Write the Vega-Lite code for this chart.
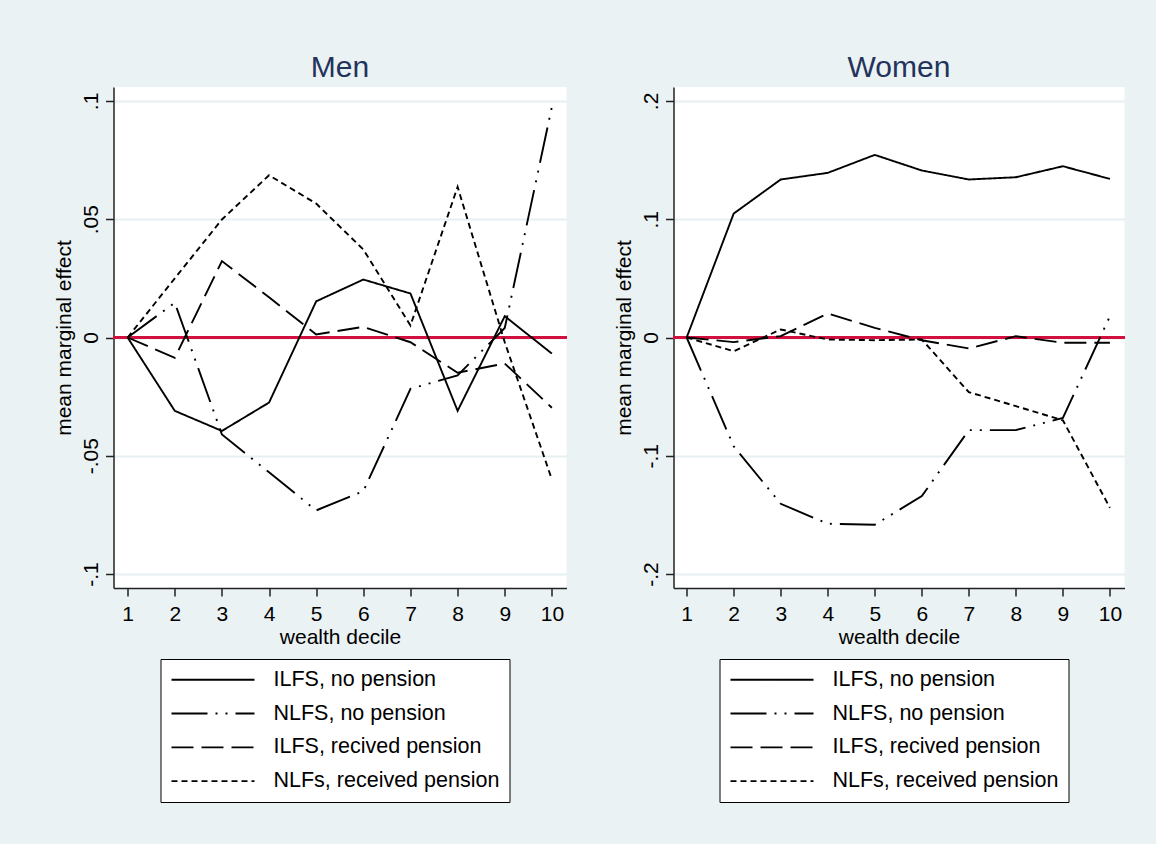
{
  "$schema": "https://vega.github.io/schema/vega-lite/v6.json",
  "background": "#EAF2F3",
  "padding": {"left": 53.5, "top": 53, "right": 32.5, "bottom": 46},
  "bounds": "flush",
  "spacing": 107,
  "datasets": {
    "d": [
      {"panel": "Men", "series": "ILFS, no pension", "decile": 1, "value": 0},
      {"panel": "Men", "series": "ILFS, no pension", "decile": 2, "value": -0.031},
      {"panel": "Men", "series": "ILFS, no pension", "decile": 3, "value": -0.0395},
      {"panel": "Men", "series": "ILFS, no pension", "decile": 4, "value": -0.0275},
      {"panel": "Men", "series": "ILFS, no pension", "decile": 5, "value": 0.0153},
      {"panel": "Men", "series": "ILFS, no pension", "decile": 6, "value": 0.0245},
      {"panel": "Men", "series": "ILFS, no pension", "decile": 7, "value": 0.0186},
      {"panel": "Men", "series": "ILFS, no pension", "decile": 8, "value": -0.031},
      {"panel": "Men", "series": "ILFS, no pension", "decile": 9, "value": 0.009},
      {"panel": "Men", "series": "ILFS, no pension", "decile": 10, "value": -0.0068},
      {"panel": "Men", "series": "NLFS, no pension", "decile": 1, "value": 0},
      {"panel": "Men", "series": "NLFS, no pension", "decile": 2, "value": 0.0147},
      {"panel": "Men", "series": "NLFS, no pension", "decile": 3, "value": -0.041},
      {"panel": "Men", "series": "NLFS, no pension", "decile": 4, "value": -0.057},
      {"panel": "Men", "series": "NLFS, no pension", "decile": 5, "value": -0.0731},
      {"panel": "Men", "series": "NLFS, no pension", "decile": 6, "value": -0.065},
      {"panel": "Men", "series": "NLFS, no pension", "decile": 7, "value": -0.0217},
      {"panel": "Men", "series": "NLFS, no pension", "decile": 8, "value": -0.016},
      {"panel": "Men", "series": "NLFS, no pension", "decile": 9, "value": 0.004},
      {"panel": "Men", "series": "NLFS, no pension", "decile": 10, "value": 0.0975},
      {"panel": "Men", "series": "ILFS, recived pension", "decile": 1, "value": 0},
      {"panel": "Men", "series": "ILFS, recived pension", "decile": 2, "value": -0.0086},
      {"panel": "Men", "series": "ILFS, recived pension", "decile": 3, "value": 0.0323},
      {"panel": "Men", "series": "ILFS, recived pension", "decile": 4, "value": 0.017},
      {"panel": "Men", "series": "ILFS, recived pension", "decile": 5, "value": 0.0013},
      {"panel": "Men", "series": "ILFS, recived pension", "decile": 6, "value": 0.0045},
      {"panel": "Men", "series": "ILFS, recived pension", "decile": 7, "value": -0.002},
      {"panel": "Men", "series": "ILFS, recived pension", "decile": 8, "value": -0.0149},
      {"panel": "Men", "series": "ILFS, recived pension", "decile": 9, "value": -0.011},
      {"panel": "Men", "series": "ILFS, recived pension", "decile": 10, "value": -0.0297},
      {"panel": "Men", "series": "NLFs, received pension", "decile": 1, "value": 0},
      {"panel": "Men", "series": "NLFs, received pension", "decile": 2, "value": 0.025},
      {"panel": "Men", "series": "NLFs, received pension", "decile": 3, "value": 0.0499},
      {"panel": "Men", "series": "NLFs, received pension", "decile": 4, "value": 0.0686},
      {"panel": "Men", "series": "NLFs, received pension", "decile": 5, "value": 0.0566},
      {"panel": "Men", "series": "NLFs, received pension", "decile": 6, "value": 0.0372},
      {"panel": "Men", "series": "NLFs, received pension", "decile": 7, "value": 0.0051},
      {"panel": "Men", "series": "NLFs, received pension", "decile": 8, "value": 0.0637},
      {"panel": "Men", "series": "NLFs, received pension", "decile": 9, "value": -0.002},
      {"panel": "Men", "series": "NLFs, received pension", "decile": 10, "value": -0.06},
      {"panel": "Women", "series": "ILFS, no pension", "decile": 1, "value": 0},
      {"panel": "Women", "series": "ILFS, no pension", "decile": 2, "value": 0.1048},
      {"panel": "Women", "series": "ILFS, no pension", "decile": 3, "value": 0.1336},
      {"panel": "Women", "series": "ILFS, no pension", "decile": 4, "value": 0.1392},
      {"panel": "Women", "series": "ILFS, no pension", "decile": 5, "value": 0.1544},
      {"panel": "Women", "series": "ILFS, no pension", "decile": 6, "value": 0.1412},
      {"panel": "Women", "series": "ILFS, no pension", "decile": 7, "value": 0.1336},
      {"panel": "Women", "series": "ILFS, no pension", "decile": 8, "value": 0.1355},
      {"panel": "Women", "series": "ILFS, no pension", "decile": 9, "value": 0.1448},
      {"panel": "Women", "series": "ILFS, no pension", "decile": 10, "value": 0.1341},
      {"panel": "Women", "series": "NLFS, no pension", "decile": 1, "value": 0},
      {"panel": "Women", "series": "NLFS, no pension", "decile": 2, "value": -0.092},
      {"panel": "Women", "series": "NLFS, no pension", "decile": 3, "value": -0.1406},
      {"panel": "Women", "series": "NLFS, no pension", "decile": 4, "value": -0.1575},
      {"panel": "Women", "series": "NLFS, no pension", "decile": 5, "value": -0.1583},
      {"panel": "Women", "series": "NLFS, no pension", "decile": 6, "value": -0.1341},
      {"panel": "Women", "series": "NLFS, no pension", "decile": 7, "value": -0.0783},
      {"panel": "Women", "series": "NLFS, no pension", "decile": 8, "value": -0.0783},
      {"panel": "Women", "series": "NLFS, no pension", "decile": 9, "value": -0.068},
      {"panel": "Women", "series": "NLFS, no pension", "decile": 10, "value": 0.018},
      {"panel": "Women", "series": "ILFS, recived pension", "decile": 1, "value": 0},
      {"panel": "Women", "series": "ILFS, recived pension", "decile": 2, "value": -0.0039},
      {"panel": "Women", "series": "ILFS, recived pension", "decile": 3, "value": 0.0011},
      {"panel": "Women", "series": "ILFS, recived pension", "decile": 4, "value": 0.0203},
      {"panel": "Women", "series": "ILFS, recived pension", "decile": 5, "value": 0.0082},
      {"panel": "Women", "series": "ILFS, recived pension", "decile": 6, "value": -0.0023},
      {"panel": "Women", "series": "ILFS, recived pension", "decile": 7, "value": -0.0093},
      {"panel": "Women", "series": "ILFS, recived pension", "decile": 8, "value": 0.0011},
      {"panel": "Women", "series": "ILFS, recived pension", "decile": 9, "value": -0.0045},
      {"panel": "Women", "series": "ILFS, recived pension", "decile": 10, "value": -0.0045},
      {"panel": "Women", "series": "NLFs, received pension", "decile": 1, "value": 0},
      {"panel": "Women", "series": "NLFs, received pension", "decile": 2, "value": -0.0116},
      {"panel": "Women", "series": "NLFs, received pension", "decile": 3, "value": 0.0068},
      {"panel": "Women", "series": "NLFs, received pension", "decile": 4, "value": -0.0017},
      {"panel": "Women", "series": "NLFs, received pension", "decile": 5, "value": -0.0023},
      {"panel": "Women", "series": "NLFs, received pension", "decile": 6, "value": -0.0017},
      {"panel": "Women", "series": "NLFs, received pension", "decile": 7, "value": -0.0462},
      {"panel": "Women", "series": "NLFs, received pension", "decile": 8, "value": -0.058},
      {"panel": "Women", "series": "NLFs, received pension", "decile": 9, "value": -0.07},
      {"panel": "Women", "series": "NLFs, received pension", "decile": 10, "value": -0.144}
    ]
  },
  "resolve": {"scale": {"strokeDash": "independent", "x": "independent", "y": "independent"}, "legend": {"strokeDash": "independent"}},
  "hconcat": [
    {
      "title": {"text": "Men"},
      "width": 453,
      "height": 501,
      "data": {"name": "d"},
      "layer": [
        {
          "mark": {"type": "rule", "color": "#D1103F", "strokeWidth": 2},
          "encoding": {"y": {"datum": 0, "type": "quantitative"}}
        },
        {
          "transform": [{"filter": "datum.panel === 'Men'"}],
          "mark": {"type": "line", "color": "black", "strokeWidth": 1.9},
          "encoding": {
            "x": {"field": "decile", "type": "quantitative", "scale": {"domain": [0.7, 10.31], "nice": false, "zero": false},
                  "axis": {"values": [1, 2, 3, 4, 5, 6, 7, 8, 9, 10], "format": "d", "title": "wealth decile", "grid": false, "labelPadding": 7, "titlePadding": 2}},
            "y": {"field": "value", "type": "quantitative", "scale": {"domain": [-0.1059, 0.1059], "nice": false, "zero": false},
                  "axis": {"values": [-0.1, -0.05, 0, 0.05, 0.1], "title": "mean marginal effect", "grid": true, "labelAngle": -90, "labelPadding": 4, "titlePadding": 6,
                           "labelExpr": "datum.value == 0 ? '0' : replace(toString(datum.value), '0.', '.')"}},
            "strokeDash": {"field": "series", "type": "nominal",
                  "scale": {"domain": ["ILFS, no pension", "NLFS, no pension", "ILFS, recived pension", "NLFs, received pension"],
                            "range": [[1, 0], [36, 8, 2, 8, 2, 8], [22, 8], [6, 4]]},
                  "legend": {"orient": "none", "legendX": 47, "legendY": 572, "direction": "vertical", "title": null,
                             "strokeColor": "black", "fillColor": "white", "padding": 10,
                             "symbolType": "stroke", "symbolSize": 6889, "symbolStrokeWidth": 1.9, "symbolStrokeColor": "black",
                             "clipHeight": 21.5, "labelFontSize": 21.5, "labelColor": "black", "labelOffset": 18, "rowPadding": 10.8, "labelLimit": 400}}
          }
        }
      ]
    },
    {
      "title": {"text": "Women"},
      "width": 451,
      "height": 501,
      "data": {"name": "d"},
      "layer": [
        {
          "mark": {"type": "rule", "color": "#D1103F", "strokeWidth": 2},
          "encoding": {"y": {"datum": 0, "type": "quantitative"}}
        },
        {
          "transform": [{"filter": "datum.panel === 'Women'"}],
          "mark": {"type": "line", "color": "black", "strokeWidth": 1.9},
          "encoding": {
            "x": {"field": "decile", "type": "quantitative", "scale": {"domain": [0.72, 10.31], "nice": false, "zero": false},
                  "axis": {"values": [1, 2, 3, 4, 5, 6, 7, 8, 9, 10], "format": "d", "title": "wealth decile", "grid": false, "labelPadding": 7, "titlePadding": 2}},
            "y": {"field": "value", "type": "quantitative", "scale": {"domain": [-0.2118, 0.2118], "nice": false, "zero": false},
                  "axis": {"values": [-0.2, -0.1, 0, 0.1, 0.2], "title": "mean marginal effect", "grid": true, "labelAngle": -90, "labelPadding": 4, "titlePadding": 6,
                           "labelExpr": "datum.value == 0 ? '0' : replace(toString(datum.value), '0.', '.')"}},
            "strokeDash": {"field": "series", "type": "nominal",
                  "scale": {"domain": ["ILFS, no pension", "NLFS, no pension", "ILFS, recived pension", "NLFs, received pension"],
                            "range": [[1, 0], [36, 8, 2, 8, 2, 8], [22, 8], [6, 4]]},
                  "legend": {"orient": "none", "legendX": 46, "legendY": 572, "direction": "vertical", "title": null,
                             "strokeColor": "black", "fillColor": "white", "padding": 10,
                             "symbolType": "stroke", "symbolSize": 6889, "symbolStrokeWidth": 1.9, "symbolStrokeColor": "black",
                             "clipHeight": 21.5, "labelFontSize": 21.5, "labelColor": "black", "labelOffset": 18, "rowPadding": 10.8, "labelLimit": 400}}
          }
        }
      ]
    }
  ],
  "config": {
    "font": "Liberation Sans",
    "view": {"stroke": null, "fill": "white"},
    "axis": {"domainColor": "#222222", "domainWidth": 1.5, "tickColor": "#222222", "tickWidth": 1.5, "tickSize": 8,
             "labelFont": "Liberation Sans", "labelFontSize": 21, "labelColor": "black",
             "titleFont": "Liberation Sans", "titleFontSize": 21, "titleFontWeight": "normal", "titleColor": "black",
             "gridColor": "#E6EFF1", "gridWidth": 2},
    "legend": {"labelFont": "Liberation Sans"},
    "title": {"font": "Liberation Sans", "fontSize": 30, "fontWeight": "normal", "color": "#23335C", "offset": 4}
  }
}
